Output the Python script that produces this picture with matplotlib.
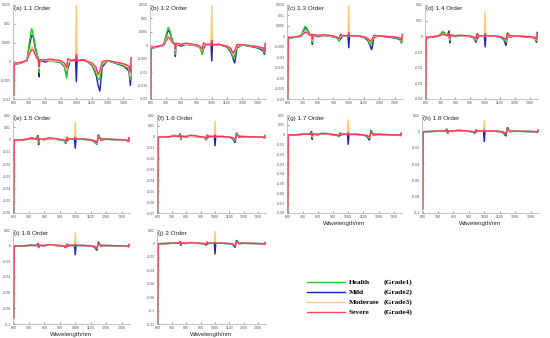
import matplotlib
matplotlib.use("Agg")
import matplotlib.pyplot as plt
from matplotlib.lines import Line2D

# wavelength nodes (nm)
wavelength = [600, 604, 650, 685, 700, 715, 725, 745, 758, 762, 766, 800, 830, 900, 925, 938,
              945, 960, 995, 1000, 1005, 1050, 1100, 1125, 1140, 1150, 1165, 1200, 1300, 1335, 1345, 1350]

grades = ["Health", "Mild", "Moderate", "Severe"]
grade_tags = ["(Grade1)", "(Grade2)", "(Grade3)", "(Grade4)"]

# derivative values (x 1e-3), rows: Health, Mild, Moderate, Severe
order_11 = [
    [-9, -0.8, -0.4, 0.2, 5, 8.8, 7, 2.5, 0.5, -3, 0.3, 0.2, 0.2, -0.2, -1.5, -4.5, -1, 0.2, 0.2, 0.5, 0.2, 0.3, -0.8, -3, -5, -4.5, -1, 0.2, -1, -2, -5, -1],
    [-9, -0.8, -0.4, 0.2, 4, 7, 6.5, 2, 0.8, -4.2, 0.3, -0.2, 0.2, -0.3, -1.5, -3.8, -2, 0.2, 0.4, -5.5, 0.2, 0.4, -1, -3.5, -6.5, -8, -1.5, 0.2, -1.2, -2.5, -6.5, -2],
    [-9, -0.6, -0.3, 0.2, 2.5, 4, 3.5, 1.2, 0.5, -2, 0.3, 0.3, 0.2, 0, -1, -2.5, -0.5, 0.2, 0.2, 15, 0.2, 0.2, -0.6, -2, -4, -3, -0.5, 0.2, -0.8, -1.5, -4, 1],
    [-9, -0.5, -0.2, 0.3, 2, 3.2, 3, 1, 0.5, -1.5, 0.5, 0.4, 0.6, 0.2, -0.5, -1.8, 0.8, 0.3, 0.3, 2, 0.3, 0.3, -0.4, -1.5, -3.5, -2.5, 0, 0.2, -0.6, -1.2, -3, 1],
]
order_12 = [
    [-20, -1.2, -0.5, 0, 3.5, 6.7, 5.5, 1.5, 0.3, -3.5, 0.3, 0.2, 0.5, 0, -1, -3.6, -0.5, 0.2, 0.2, 0.5, 0.2, 0.3, -0.5, -2, -4.5, -4, -0.5, 0.2, -0.8, -1.5, -3, -0.5],
    [-20, -1.2, -0.5, 0, 3, 5.5, 5, 1.2, 0.5, -4.2, 0.3, -0.3, 0.3, -0.2, -1, -3, -1.5, 0.2, 0.4, -6, 0.2, 0.3, -0.7, -2.5, -5, -6.7, -1, 0.2, -1, -2, -3.5, -1],
    [-20, -1, -0.4, 0, 2, 3.5, 3, 0.8, 0.3, -2, 0.3, 0.3, 0.3, 0, -0.8, -2, -0.3, 0.2, 0.2, 15, 0.2, 0.2, -0.4, -1.5, -3.5, -2.5, -0.3, 0.2, -0.6, -1.2, -2.5, 0.5],
    [-20, -0.8, -0.3, 0.2, 1.5, 3, 2.5, 0.8, 0.5, -1.5, 0.8, 0.4, 0.8, 0.2, -0.5, -1.5, 1, 0.3, 0.3, 2, 0.3, 0.3, -0.3, -1.2, -3, -2, 0.3, 0.2, -0.5, -1, -2.5, 0.8],
]
order_13 = [
    [-30, -1, -0.4, 0, 2.5, 4.9, 4, 1, 0.3, -3, 0.5, 0.2, 0.5, 0, -0.8, -2.5, 0.5, 0.2, 0.2, 0.5, 0.2, 0.3, -0.3, -1.5, -4, -3, 0, 0.2, -0.5, -1.2, -3, -0.5],
    [-30, -1, -0.4, 0, 2, 4, 3.5, 0.8, 0.5, -4, 0.5, -0.2, 0.3, -0.2, -0.8, -2, -1.5, 0.2, 0.4, -5.7, 0.2, 0.3, -0.5, -2, -4.5, -6.5, -0.5, 0.2, -0.8, -1.5, -3.3, -1],
    [-30, -0.8, -0.3, 0, 1.5, 2.5, 2.2, 0.5, 0.3, -2, 0.5, 0.3, 0.3, 0, -0.5, -1.5, 0, 0.2, 0.2, 15, 0.2, 0.2, -0.3, -1, -3, -2, 0, 0.2, -0.4, -1, -2.5, 0.8],
    [-30, -0.6, -0.2, 0.2, 1, 2, 1.8, 0.5, 0.8, -1.5, 1, 0.4, 0.8, 0.2, -0.5, -1.2, 1, 0.3, 0.3, 2, 0.3, 0.3, -0.2, -1, -2.5, -1.5, 0.5, 0.2, -0.3, -0.8, -2, 1],
]
order_14 = [
    [-40, -1, -0.3, 0, 1.5, 3.1, 2.5, 0.5, 2, -3, 0.5, 0.2, 0.5, 0, -1, -3, 2, 0.2, 0.2, 0.5, 0.2, 0.3, -0.3, -1.5, -4, 2.5, 0.5, 0.2, -0.3, -1, -3, 1],
    [-40, -1, -0.3, 0, 1.2, 2.5, 2, 0.4, 3.6, -4.4, 0.5, -0.2, 0.3, -0.2, -1, -4, -1.5, 0.2, 0.4, -7, 0.2, 0.3, -0.4, -2, -6, 1, -0.5, 0.2, -0.5, -1.2, -4, 2.5],
    [-40, -0.8, -0.2, 0, 0.8, 1.5, 1.2, 0.3, 1.5, -2, 0.5, 0.3, 0.3, 0, -0.5, -2, 1, 0.2, 0.2, 16, 0.2, 0.2, -0.2, -1, -3, 1.5, 0, 0.2, -0.3, -0.8, -2.5, 1.5],
    [-40, -0.6, -0.2, 0.2, 0.6, 1.2, 1, 0.3, 1.5, -1.5, 1, 0.4, 0.8, 0.2, -0.5, -1.5, 1.5, 0.3, 0.3, 2, 0.3, 0.3, -0.2, -1, -2.5, 2, 0.5, 0.2, -0.2, -0.6, -2, 1.5],
]
order_15 = [
    [-60, -0.8, -0.2, 0, 0.8, 1.6, 1.2, 0.3, 2.5, -3, 0.3, 0.2, 0.8, 0, -0.5, -3, 2, 0.2, 0.2, 0.5, 0.2, 0.2, -0.2, -1.5, -4, 3, 0.5, 0.2, -0.2, -0.5, -1.5, 1],
    [-60, -0.8, -0.2, 0, 0.6, 1.3, 1, 0.3, 3.5, -4.6, 0.3, -0.2, 0.5, -0.2, -0.5, -3.3, -1, 0.2, 0.3, -7.4, 0.2, 0.2, -0.3, -2, -4, 4, -0.5, 0.2, -0.3, -0.8, -2, 1.5],
    [-60, -0.6, -0.2, 0, 0.4, 0.8, 0.6, 0.2, 1.5, -2, 0.3, 0.2, 0.5, 0, -0.3, -2, 2.7, 0.2, 0.2, 14.5, 0.2, 0.2, -0.2, -1, -3, 2, 0, 0.2, -0.2, -0.5, -1.5, 1],
    [-60, -0.5, -0.2, 0.2, 0.3, 0.6, 0.5, 0.2, 1.5, -1.5, 0.5, 0.3, 1.5, 0.2, -0.3, -1.5, 1.5, 0.3, 0.3, 2, 0.3, 0.3, -0.2, -1, -2.5, 2, 0.5, 0.2, -0.2, -0.5, -1.5, 1.5],
]
order_16 = [
    [-70, -0.6, -0.2, 0, 0.7, 1.5, 1, 0.3, 2, -2.5, 0.3, 0.2, 0.8, 0, -0.5, -2.5, 1.8, 0.2, 0.2, 0.5, 0.2, 0.2, -0.2, -1.5, -4, 3, 0.5, 0.2, -0.2, -0.4, -1, 0.8],
    [-70, -0.6, -0.2, 0, 0.5, 1.2, 0.8, 0.3, 3, -3, 0.3, -0.2, 0.5, -0.2, -0.5, -3, -1, 0.2, 0.3, -8.6, 0.2, 0.2, -0.3, -2, -5.5, 3.7, -0.5, 0.2, -0.3, -0.5, -1.2, 1],
    [-70, -0.5, -0.2, 0, 0.3, 0.8, 0.5, 0.2, 1.5, -2, 0.3, 0.2, 0.5, 0, -0.3, -2, 2, 0.2, 0.2, 14.4, 0.2, 0.2, -0.2, -1, -3, 2, 0, 0.2, -0.2, -0.4, -1, 0.8],
    [-70, -0.4, -0.2, 0.2, 0.3, 0.6, 0.5, 0.2, 1.5, -1.5, 0.5, 0.3, 1.5, 0.2, -0.3, -1.5, 1.5, 0.3, 0.3, 2, 0.3, 0.3, -0.2, -1, -2.5, 2, 0.5, 0.2, -0.2, -0.4, -1, 1.2],
]
order_17 = [
    [-80, -0.5, -0.2, 0, 0.5, 1, 0.8, 0.2, 2, -3, 0.3, 0.2, 1, 0, -0.5, -2, 2, 0.2, 0.2, 0.5, 0.2, 0.2, -0.2, -1.5, -4, 3.5, 0.5, 0.2, -0.2, -0.4, -1, 1],
    [-80, -0.5, -0.2, 0, 0.4, 0.8, 0.6, 0.2, 3.4, -5, 0.3, -0.2, 0.8, -0.2, -0.5, -2, -1, 0.2, 0.3, -10.3, 0.2, 0.2, -0.3, -2, -5.8, 4.5, -0.5, 0.2, -0.3, -0.5, -1.2, 1.2],
    [-80, -0.4, -0.2, 0, 0.3, 0.5, 0.4, 0.2, 1.5, -2, 0.3, 0.2, 0.8, 0, -0.3, -1.5, 1.5, 0.2, 0.2, 15.5, 0.2, 0.2, -0.2, -1, -3, 2, 0, 0.2, -0.2, -0.4, -1, 1],
    [-80, -0.3, -0.2, 0.2, 0.3, 0.5, 0.4, 0.2, 1.5, -1.5, 0.5, 0.3, 1.5, 0.2, -0.3, -1.5, 1.5, 0.3, 0.3, 2, 0.3, 0.3, -0.2, -1, -2.5, 2, 0.5, 0.2, -0.2, -0.4, -1, 1.5],
]
order_18 = [
    [-95, -0.5, -0.2, 0, 0.4, 0.8, 0.6, 0.2, 2, -2.5, 0.3, 0.2, 1, 0, -0.5, -2, 2, 0.2, 0.2, 0.5, 0.2, 0.2, -0.2, -1.5, -4, 3.5, 0.5, 0.2, -0.2, -0.4, -1, 1],
    [-95, -0.5, -0.2, 0, 0.3, 0.6, 0.5, 0.2, 3, -3, 0.3, -0.2, 0.8, -0.2, -0.5, -2.5, -1, 0.2, 0.3, -13, 0.2, 0.2, -0.3, -2, -6, 5, -0.5, 0.2, -0.3, -0.5, -1.2, 1.2],
    [-95, -0.4, -0.2, 0, 0.3, 0.4, 0.3, 0.2, 1.5, -2, 0.3, 0.2, 0.8, 0, -0.3, -1.5, 1.5, 0.2, 0.2, 13.7, 0.2, 0.2, -0.2, -1, -3, 2, 0, 0.2, -0.2, -0.4, -1, 1],
    [-95, -0.3, -0.2, 0.2, 0.3, 0.4, 0.3, 0.2, 2, -2, 0.5, 0.3, 1.5, 0.2, -0.3, -2, 2, 0.3, 0.3, 2, 0.3, 0.3, -0.2, -1, -3, 2.5, 0.5, 0.2, -0.2, -0.4, -1.5, 1.5],
]
order_19 = [
    [-92, -0.5, -0.2, 0, 0.4, 0.7, 0.5, 0.2, 2, -2.5, 0.3, 0.2, 1, 0, -0.5, -2, 2, 0.2, 0.2, 0.5, 0.2, 0.2, -0.2, -1.5, -4, 3.5, 0.5, 0.2, -0.2, -0.4, -1, 1],
    [-92, -0.5, -0.2, 0, 0.3, 0.6, 0.4, 0.2, 3, -3, 0.3, -0.2, 0.8, -0.2, -0.5, -2.5, -1, 0.2, 0.3, -12, 0.2, 0.2, -0.3, -2, -6, 5, -0.5, 0.2, -0.3, -0.5, -1.2, 1.2],
    [-92, -0.4, -0.2, 0, 0.3, 0.4, 0.3, 0.2, 1.5, -2, 0.3, 0.2, 0.8, 0, -0.3, -1.5, 1.5, 0.2, 0.2, 17, 0.2, 0.2, -0.2, -1, -3, 2, 0, 0.2, -0.2, -0.4, -1, 1],
    [-92, -0.3, -0.2, 0.2, 0.3, 0.4, 0.3, 0.2, 2, -2, 0.5, 0.3, 1.5, 0.2, -0.3, -2, 2, 0.3, 0.3, 2, 0.3, 0.3, -0.2, -1, -3, 2.5, 0.5, 0.2, -0.2, -0.4, -1.5, 1.5],
]
order_20 = [
    [-120, -0.5, -0.2, 0, 0.4, 0.7, 0.5, 0.2, 2, -2.5, 0.3, 0.2, 1, 0, -0.5, -2, 2, 0.2, 0.2, 0.5, 0.2, 0.2, -0.2, -1.5, -4, 3.5, 0.5, 0.2, -0.2, -0.4, -1, 1],
    [-120, -0.5, -0.2, 0, 0.3, 0.6, 0.4, 0.2, 3, -3, 0.3, -0.2, 0.8, -0.2, -0.5, -2.5, -1, 0.2, 0.3, -16.4, 0.2, 0.2, -0.3, -2, -6, 5, -0.5, 0.2, -0.3, -0.5, -1.2, 1.2],
    [-120, -0.4, -0.2, 0, 0.3, 0.4, 0.3, 0.2, 1.5, -2, 0.3, 0.2, 0.8, 0, -0.3, -1.5, 1.5, 0.2, 0.2, 18.4, 0.2, 0.2, -0.2, -1, -3, 2, 0, 0.2, -0.2, -0.4, -1, 1],
    [-120, -0.3, -0.2, 0.2, 0.3, 0.4, 0.3, 0.2, 2, -2, 0.5, 0.3, 1.5, 0.2, -0.3, -2, 2, 0.3, 0.3, 2, 0.3, 0.3, -0.2, -1, -3, 2.5, 0.5, 0.2, -0.2, -0.4, -1.5, 1.5],
]

panel_titles = ["(a) 1.1 Order", "(b) 1.2 Order", "(c) 1.3 Order", "(d) 1.4 Order", "(e) 1.5 Order",
                "(f) 1.6 Order", "(g) 1.7 Order", "(h) 1.8 Order", "(i) 1.9 Order", "(j) 2 Order"]
panel_data = [order_11, order_12, order_13, order_14, order_15, order_16, order_17, order_18, order_19, order_20]
y_limits = [(-0.01, 0.015), (-0.02, 0.015), (-0.03, 0.015), (-0.04, 0.02), (-0.06, 0.02),
            (-0.07, 0.02), (-0.08, 0.02), (-0.1, 0.02), (-0.1, 0.02), (-0.12, 0.02)]
y_steps = [0.005, 0.005, 0.005, 0.01, 0.01, 0.01, 0.01, 0.02, 0.02, 0.02]
x_ticks = [600, 700, 800, 900, 1000, 1100, 1200, 1300]
x_label_panels = [6, 7, 8, 9]

line_colors = ["#19d219", "#2020b8", "#ffc878", "#ff3468"]
legend_colors = ["#22cc22", "#1a1aaa", "#ffc888", "#ff4a4a"]
draw_order = [1, 0, 2, 3]

W, H = 550, 338
# panel boxes in pixels: left, top, width, height
boxes = [(13, 5, 119, 94), (150, 5, 116, 94), (287, 5, 116, 94), (425, 5, 113, 94),
         (13, 115, 117, 98), (157, 115, 109, 98), (287, 115, 115, 98), (422, 115, 117, 98),
         (13, 230, 117, 94), (157, 230, 109, 94)]

fig = plt.figure(figsize=(W / 100, H / 100), dpi=100)

def fmt(v):
    s = ("%.3f" % v).rstrip("0").rstrip(".")
    if s in ("-0", "0.", ""):
        s = "0"
    return s

for i, (title, data) in enumerate(zip(panel_titles, panel_data)):
    l, t, w, h = boxes[i]
    ax = fig.add_axes([l / W, 1 - (t + h) / H, w / W, h / H])
    for g in draw_order:
        ax.plot(wavelength, [v * 1e-3 for v in data[g]],
                color=line_colors[g], lw=1.0, solid_joinstyle="miter")
    lo, hi = y_limits[i]
    ax.set_xlim(596, 1355)
    ax.set_ylim(lo, hi)
    n = int(round((hi - lo) / y_steps[i]))
    yt = [lo + k * y_steps[i] for k in range(n + 1)]
    ax.set_yticks(yt)
    ax.set_yticklabels([fmt(v) for v in yt])
    ax.set_xticks(x_ticks)
    ax.set_xticklabels([str(v) for v in x_ticks])
    ax.tick_params(labelsize=2.6, length=1.2, width=0.4, direction="in", pad=1.2, colors="#555555")
    for lab in ax.get_xticklabels() + ax.get_yticklabels():
        lab.set_family("Liberation Sans")
    for s in ["top", "right"]:
        ax.spines[s].set_visible(False)
    for s in ["left", "bottom"]:
        ax.spines[s].set_color("#aaaaaa")
        ax.spines[s].set_linewidth(0.5)
    ax.text(0.01, 0.985, title, transform=ax.transAxes, ha="left", va="top",
            fontsize=4.6, family="Liberation Sans", color="#222222")
    if i in x_label_panels:
        ax.set_xlabel("Wavelength/nm", fontsize=4.4, family="Liberation Sans", labelpad=1.5, color="#222222")

# legend
lax = fig.add_axes([0, 0, 1, 1])
lax.set_xlim(0, W)
lax.set_ylim(H, 0)
lax.axis("off")
rows_y = [282, 292, 302, 312]
for k in range(4):
    lax.add_line(Line2D([307, 345], [rows_y[k], rows_y[k]], color=legend_colors[k], lw=1.0))
    lax.text(349, rows_y[k], grades[k], fontsize=5.3, family="Liberation Serif", weight="bold",
             va="center", ha="left")
    lax.text(384, rows_y[k], grade_tags[k], fontsize=5.3, family="Liberation Serif", weight="bold",
             va="center", ha="left")

fig.savefig("out.png", dpi=100)
